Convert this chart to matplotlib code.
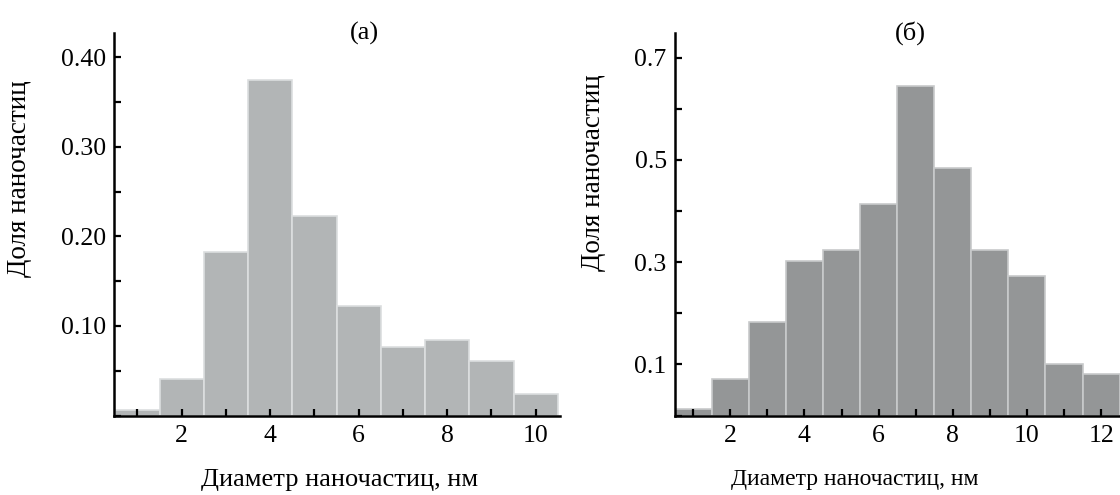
import matplotlib
matplotlib.use("Agg")
import matplotlib.pyplot as plt
from matplotlib.ticker import MultipleLocator

plt.rcParams["font.family"] = ["Liberation Serif", "DejaVu Serif"]

# (a) диаметры и доли
диаметр_а = [1, 2, 3, 4, 5, 6, 7, 8, 9, 10]
доля_а = [0.006, 0.041, 0.182, 0.374, 0.223, 0.122, 0.076, 0.084, 0.061, 0.024]

# (б)
диаметр_б = [1, 2, 3, 4, 5, 6, 7, 8, 9, 10, 11, 12]
доля_б = [0.012, 0.072, 0.182, 0.303, 0.323, 0.414, 0.645, 0.484, 0.323, 0.273, 0.101, 0.081]

W, H = 1120, 495
FS = 18.5
fig = plt.figure(figsize=(W / 100, H / 100), dpi=100)


def оси(x0, x1, y_top, y_bot):
    return fig.add_axes([x0 / W, 1 - y_bot / H, (x1 - x0) / W, (y_bot - y_top) / H])


def оформить(ax):
    for s in ("top", "right"):
        ax.spines[s].set_visible(False)
    for s in ("left", "bottom"):
        ax.spines[s].set_linewidth(1.8)
        ax.spines[s].set_color("black")
    ax.tick_params(which="both", direction="in", length=5, width=1.6, labelsize=FS, colors="black")
    ax.tick_params(axis="x", pad=7)
    ax.tick_params(axis="y", pad=6)


ax1 = оси(114, 560, 33, 415.5)
ax1.bar(диаметр_а, доля_а, width=1.0, color="#b2b5b6", edgecolor="#dcdedf", linewidth=1.2)
ax1.set_xlim(0.47, 10.55)
ax1.set_ylim(0, 0.427)
ax1.xaxis.set_major_locator(MultipleLocator(2))
ax1.xaxis.set_minor_locator(MultipleLocator(1))
ax1.set_yticks([0.10, 0.20, 0.30, 0.40])
ax1.set_yticklabels(["0.10", "0.20", "0.30", "0.40"])
ax1.yaxis.set_minor_locator(MultipleLocator(0.05))
оформить(ax1)
ax1.set_ylabel("Доля наночастиц", fontsize=19.5)
ax1.yaxis.set_label_coords(-0.184, 0.618)
ax1.set_xlabel("Диаметр наночастиц, нм", fontsize=19)
ax1.xaxis.set_label_coords(0.506, -0.14)
ax1.text(0.562, 1.0, "(a)", transform=ax1.transAxes, ha="center", va="center", fontsize=19)

ax2 = оси(675, 1120, 33, 415.5)
ax2.bar(диаметр_б, доля_б, width=1.0, color="#949697", edgecolor="#c8cacb", linewidth=1.2)
ax2.set_xlim(0.51, 12.51)
ax2.set_ylim(0, 0.748)
ax2.xaxis.set_major_locator(MultipleLocator(2))
ax2.xaxis.set_minor_locator(MultipleLocator(1))
ax2.set_yticks([0.1, 0.3, 0.5, 0.7])
ax2.set_yticklabels(["0.1", "0.3", "0.5", "0.7"])
ax2.yaxis.set_minor_locator(MultipleLocator(0.1))
оформить(ax2)
ax2.set_ylabel("Доля наночастиц", fontsize=19.5)
ax2.yaxis.set_label_coords(-0.155, 0.636)
ax2.set_xlabel("Диаметр наночастиц, нм", fontsize=17)
ax2.xaxis.set_label_coords(0.405, -0.14)
ax2.text(0.53, 1.0, "(б)", transform=ax2.transAxes, ha="center", va="center", fontsize=19)

fig.savefig("out.png", dpi=100)
